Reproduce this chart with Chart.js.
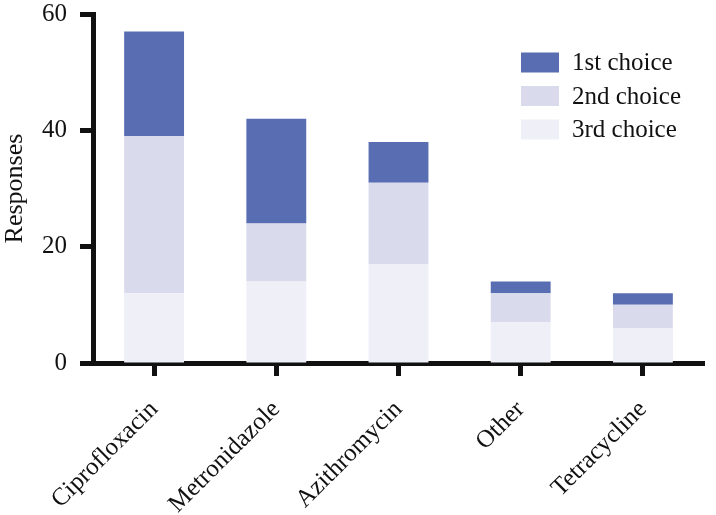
<!DOCTYPE html>
<html><head><meta charset="utf-8">
<script src="https://cdn.jsdelivr.net/npm/chart.js@4"></script>
<style>html,body{margin:0;padding:0;background:#fff}#wrap{width:716px;height:515px;position:relative}</style>
</head><body><div id="wrap"><canvas id="c"></canvas></div>
<script>
const categories = ['Ciprofloxacin', 'Metronidazole', 'Azithromycin', 'Other', 'Tetracycline'];
const firstChoice = [18, 18, 7, 2, 2];
const secondChoice = [27, 10, 14, 5, 4];
const thirdChoice = [12, 14, 17, 7, 6];
const seriesNames = ['1st choice', '2nd choice', '3rd choice'];
const yTickValues = [0, 20, 40, 60];
const yTitle = 'Responses';

const seriesColors = ['rgb(89,109,178)', 'rgb(217,219,237)', 'rgb(238,239,247)'];
const FONT = '"Liberation Serif", "Times New Roman", serif';

const legendPlugin = {
  id: 'customLegend',
  afterDraw(chart) {
    const ctx = chart.ctx;
    ctx.save();
    ctx.font = '25px ' + FONT;
    ctx.textBaseline = 'middle';
    ctx.textAlign = 'left';
    const rows = [62.5, 96, 129.5];
    seriesNames.forEach((name, i) => {
      ctx.fillStyle = seriesColors[i];
      ctx.fillRect(521, rows[i] - 10, 38, 20);
      ctx.fillStyle = '#111';
      ctx.fillText(name, 572, rows[i] + 1);
    });
    ctx.restore();
  }
};

new Chart(document.getElementById('c'), {
  type: 'bar',
  data: {
    labels: categories,
    datasets: [
      { label: seriesNames[2], data: thirdChoice, backgroundColor: seriesColors[2] },
      { label: seriesNames[1], data: secondChoice, backgroundColor: seriesColors[1] },
      { label: seriesNames[0], data: firstChoice, backgroundColor: seriesColors[0] }
    ]
  },
  options: {
    responsive: true,
    maintainAspectRatio: false,
    animation: false,
    layout: { padding: { top: 0, right: 12, left: 0, bottom: 0 } },
    plugins: { legend: { display: false }, tooltip: { enabled: false } },
    datasets: { bar: { barPercentage: 0.98, categoryPercentage: 0.5 } },
    scales: {
      x: {
        stacked: true,
        grid: { display: true, offset: false, drawOnChartArea: false, tickLength: 13, tickWidth: 5, tickColor: '#111' },
        border: { display: true, color: '#111', width: 5 },
        ticks: { minRotation: 45, maxRotation: 45, color: '#111', font: { family: FONT, size: 25 }, padding: 19 },
        afterFit(scale) { scale.height = 515 - 363; scale.paddingLeft = 0; }
      },
      y: {
        stacked: true,
        min: 0, max: 60,
        afterBuildTicks(scale) { scale.ticks = yTickValues.map(v => ({ value: v })); },
        grid: { display: true, drawOnChartArea: false, tickLength: 13, tickWidth: 5, tickColor: '#111' },
        border: { display: true, color: '#111', width: 5 },
        ticks: { color: '#111', font: { family: FONT, size: 25 }, padding: 13 },
        title: { display: true, text: yTitle, color: '#111', font: { family: FONT, size: 26 }, padding: { top: 0, bottom: 4 } },
        afterFit(scale) { scale.width = 93; scale.paddingTop = 14; scale.paddingBottom = 0; }
      }
    }
  },
  plugins: [legendPlugin]
});
</script></body></html>
